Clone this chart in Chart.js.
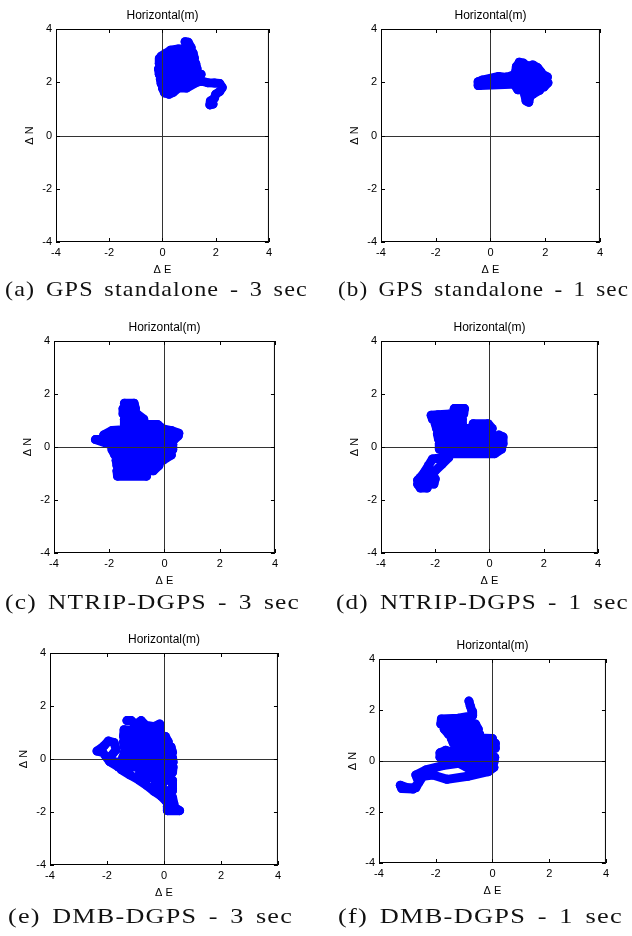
<!DOCTYPE html>
<html>
<head>
<meta charset="utf-8">
<title>Horizontal(m)</title>
<script src="https://cdn.jsdelivr.net/npm/chart.js@4.4.1/dist/chart.umd.min.js"></script>
<style>
    body { margin: 0; background: #fff; }
    #page { position: relative; width: 632px; height: 936px; overflow: hidden; background: #fff; }
    .panel { position: absolute; }
    .cap {
        position: absolute;
        font-family: "Liberation Serif", "DejaVu Serif", serif;
        font-size: 21px;
        line-height: 21px;
        white-space: nowrap;
        color: #111;
        letter-spacing: 1px;
        word-spacing: 3px;
        transform-origin: 0 0;
    }
</style>
</head>
<body>
<div id="page"></div>
<script>

/* ================= DATA (ΔE, ΔN in metres) ================= */

const tickValues = [-4, -2, 0, 2, 4];

const captions = [
    "(a) GPS standalone - 3 sec",
    "(b) GPS standalone - 1 sec",
    "(c) NTRIP-DGPS - 3 sec",
    "(d) NTRIP-DGPS - 1 sec",
    "(e) DMB-DGPS - 3 sec",
    "(f) DMB-DGPS - 1 sec"
];

const gpsStandalone3s = [
    [0.85,3.52],[0.97,3.5],[1.08,3.3],[0.6,3.25],[0.3,3.2],[0.12,3.08],[-0.05,2.98],[1.15,3.1],
    [1.2,2.9],[-0.1,2.9],[-0.12,2.7],[1.25,2.7],[1.3,2.5],[-0.15,2.5],[-0.12,2.3],[1.45,2.3],
    [1.35,2.12],[-0.08,2.12],[-0.05,1.95],[1.25,1.98],[0.9,1.78],[0.0,1.78],[0.08,1.6],[0.25,1.55],
    [0.4,1.62],[0.6,1.78],[1.0,1.9],[1.45,2.05],[1.7,1.98],[1.95,1.97],[2.15,1.95],[2.25,1.8],
    [2.15,1.65],[2.0,1.55],[1.95,1.4],[1.8,1.3],[1.78,1.15],[1.9,1.18]
];

const gpsStandalone1s = [
    [-0.45,1.88],[-0.45,2.02],[-0.3,2.08],[0.3,2.22],[0.6,2.18],[0.9,2.3],[0.95,2.55],[1.05,2.75],
    [1.2,2.72],[1.35,2.6],[1.55,2.65],[1.72,2.55],[1.85,2.38],[0.92,2.4],[0.95,2.6],[1.6,2.5],
    [1.9,2.3],[2.08,2.2],[0.6,2.2],[0.2,2.1],[-0.35,2.05],[-0.4,1.88],[2.1,1.98],[1.95,1.82],
    [0.9,1.88],[1.0,1.72],[1.8,1.7],[1.55,1.55],[1.25,1.55],[1.3,1.3],[1.4,1.25],[1.45,1.5]
];

const ntripDgps3s = [
    [-1.45,1.65],[-1.1,1.65],[-1.05,1.45],[-1.5,1.45],[-1.5,1.25],[-1.0,1.25],[-0.75,1.05],[-1.45,1.05],
    [-1.45,0.85],[-0.25,0.85],[-0.05,0.68],[0.25,0.62],[0.52,0.52],[-1.5,0.65],[-1.9,0.62],[-2.2,0.45],
    [0.5,0.42],[0.35,0.28],[-2.5,0.28],[-2.0,0.1],[0.3,0.1],[0.3,-0.1],[-1.9,-0.1],[-1.8,-0.3],
    [0.25,-0.3],[-0.05,-0.5],[-1.75,-0.5],[-1.72,-0.7],[-0.2,-0.7],[-0.4,-0.9],[-1.72,-0.9],[-1.7,-1.1],
    [-0.65,-1.1]
];

const ntripDgps1s = [
    [-1.3,1.45],[-0.92,1.45],[-0.95,1.25],[-1.45,1.25],[-1.9,1.22],[-2.15,1.2],[-2.1,1.05],[-1.0,1.05],
    [-1.0,0.88],[-2.0,0.88],[-1.95,0.7],[0.1,0.7],[-0.05,0.88],[-0.6,0.88],[-0.5,0.7],[0.1,0.5],
    [-1.92,0.5],[-1.88,0.3],[0.15,0.3],[0.35,0.45],[0.5,0.38],[0.5,0.12],[-1.85,0.12],[-1.85,-0.08],
    [0.45,-0.08],[0.2,-0.25],[-1.5,-0.25],[-1.75,-0.4],[-2.1,-0.45],[-2.25,-0.7],[-2.4,-0.95],[-2.55,-1.15],
    [-2.65,-1.25],[-2.0,-1.2],[-2.05,-1.4],[-2.65,-1.4],[-2.55,-1.55],[-2.3,-1.55],[-2.15,-1.1],[-2.0,-0.9],
    [-1.75,-0.65],[-1.5,-0.4]
];

const dmbDgps3s = [
    [-1.3,1.45],[-1.15,1.45],[-1.0,1.3],[-0.8,1.45],[-0.65,1.28],[-0.35,1.22],[-0.15,1.32],[-0.12,1.05],
    [-0.35,1.05],[-0.7,1.08],[-1.4,1.1],[-1.42,0.85],[-0.7,0.85],[-0.4,0.82],[0.05,0.85],[0.15,0.65],
    [-1.42,0.65],[-1.38,0.45],[0.25,0.45],[0.3,0.25],[-1.38,0.25],[-1.45,0.05],[0.3,0.05],[0.32,-0.12],
    [-1.9,-0.1],[-2.15,0.25],[-2.35,0.3],[-2.1,0.5],[-1.95,0.68],[-1.75,0.62],[-1.68,0.35],[-1.85,0.12],
    [-1.9,-0.1],[-1.6,-0.3],[0.32,-0.3],[0.3,-0.5],[-0.85,-0.5],[-0.55,-0.7],[-0.1,-0.7],[-0.3,-0.9],
    [-0.12,-1.05],[0.05,-0.8],[0.3,-0.8],[0.3,-1.2],[0.08,-1.2],[0.08,-1.5],[0.3,-1.45],[0.35,-1.7],
    [0.12,-1.78],[0.12,-1.95],[0.55,-1.95],[0.08,-1.6],[-0.1,-1.4],[-0.35,-1.22],[-0.6,-1.0],[-0.9,-0.78],
    [-1.2,-0.6],[-1.5,-0.4]
];

const dmbDgps1s = [
    [-0.83,2.35],[-0.78,2.15],[-0.72,1.95],[-0.7,1.78],[-1.2,1.68],[-1.8,1.65],[-1.82,1.45],[-0.6,1.45],
    [-0.5,1.25],[-1.7,1.25],[-1.55,1.05],[-0.45,1.05],[-0.55,0.9],[0.0,0.88],[-1.45,0.88],[-1.38,0.7],
    [0.1,0.7],[0.1,0.5],[-1.32,0.5],[-1.3,0.32],[-1.65,0.42],[-1.85,0.32],[-1.85,0.15],[0.08,0.15],
    [0.05,-0.05],[-1.25,-0.05],[-0.9,-0.25],[0.05,-0.25],[-0.15,-0.42],[-0.87,-0.6],[-1.6,-0.72],[-2.1,-0.55],
    [-2.45,-0.6],[-2.6,-0.85],[-2.7,-1.05],[-3.0,-1.05],[-3.25,-0.95],[-3.2,-1.08],[-2.8,-1.1],[-2.6,-0.85],
    [-2.7,-0.55],[-2.35,-0.35],[-1.75,-0.18],[-1.25,-0.1]
];


/* ================= LAYOUT ================= */

// plot box [left, top, right, bottom] and caption [left, top, width] on the page
const panels = [
    { data: gpsStandalone3s, box: [56, 29, 266, 242],  cap: [5, 279, 303] },
    { data: gpsStandalone1s, box: [381, 29, 597, 242], cap: [338, 279, 291] },
    { data: ntripDgps3s,     box: [54, 341, 272, 553], cap: [5, 592, 295] },
    { data: ntripDgps1s,     box: [381, 341, 595, 553], cap: [336, 592, 293] },
    { data: dmbDgps3s,       box: [50, 653, 275, 865], cap: [8, 906, 285] },
    { data: dmbDgps1s,       box: [379, 659, 603, 863], cap: [338, 906, 285] }
];

const PAD_L = 50, PAD_T = 30, PAD_R = 10, PAD_B = 40;
const BLUE = "#0000ff";
const tickFont  = { family: "Liberation Sans", size: 11 };
const titleFont = { family: "Liberation Sans", size: 12 };

// MATLAB style frame: box, inward ticks on all sides, zero lines over the data
const frame = {
    id: "frame",
    afterDatasetsDraw(chart) {
        const { ctx, chartArea: a, scales: { x, y } } = chart;
        ctx.save();
        ctx.lineWidth = 1;

        ctx.strokeStyle = "#333";
        ctx.beginPath();
        const x0 = Math.round(x.getPixelForValue(0)) + 0.5;
        const y0 = Math.round(y.getPixelForValue(0)) + 0.5;
        ctx.moveTo(x0, a.top); ctx.lineTo(x0, a.bottom);
        ctx.moveTo(a.left, y0); ctx.lineTo(a.right, y0);
        ctx.stroke();

        ctx.strokeStyle = "#000";
        ctx.strokeRect(a.left + 0.5, a.top + 0.5, a.right - a.left - 1, a.bottom - a.top - 1);
        ctx.beginPath();
        x.ticks.forEach(t => {
            const px = Math.round(x.getPixelForValue(t.value)) + 0.5;
            ctx.moveTo(px, a.bottom); ctx.lineTo(px, a.bottom - 4);
            ctx.moveTo(px, a.top);    ctx.lineTo(px, a.top + 4);
        });
        y.ticks.forEach(t => {
            const py = Math.round(y.getPixelForValue(t.value)) + 0.5;
            ctx.moveTo(a.left, py);  ctx.lineTo(a.left + 4, py);
            ctx.moveTo(a.right, py); ctx.lineTo(a.right - 4, py);
        });
        ctx.stroke();
        ctx.restore();
    }
};

const page = document.getElementById("page");

function setTicks(scale) {
    scale.ticks = tickValues.map(v => ({ value: v }));
}

function makePanel(p, i) {
    const [L, T, R, B] = p.box;

    const div = document.createElement("div");
    div.className = "panel";
    div.style.left   = (L - PAD_L) + "px";
    div.style.top    = (T - PAD_T) + "px";
    div.style.width  = (R - L + PAD_L + PAD_R) + "px";
    div.style.height = (B - T + PAD_T + PAD_B) + "px";
    const cv = document.createElement("canvas");
    cv.setAttribute("role", "img");
    cv.setAttribute("aria-label", captions[i]);
    div.appendChild(cv);
    page.appendChild(div);

    new Chart(cv, {
        type: "scatter",
        data: {
            datasets: [{
                data: p.data.map(([e, n]) => ({ x: e, y: n })),
                showLine: true,
                borderColor: BLUE,
                backgroundColor: BLUE,
                borderWidth: 9,
                borderJoinStyle: "round",
                borderCapStyle: "round",
                pointRadius: 4.5,
                pointBorderWidth: 0,
                pointHoverRadius: 4.5
            }]
        },
        options: {
            responsive: true,
            maintainAspectRatio: false,
            animation: false,
            events: [],
            layout: { padding: 0 },
            plugins: { legend: { display: false }, tooltip: { enabled: false } },
            scales: {
                x: {
                    type: "linear", position: "bottom", min: -4, max: 4,
                    afterBuildTicks: setTicks,
                    afterFit: s => { s.height = PAD_B; },
                    grid: { display: false, drawTicks: false },
                    border: { display: false },
                    ticks: { color: "#000", font: tickFont, padding: 4 },
                    title: { display: true, text: "Δ E", color: "#000", font: tickFont, padding: { top: 0, bottom: 5 } }
                },
                y: {
                    type: "linear", position: "left", min: -4, max: 4,
                    afterBuildTicks: setTicks,
                    afterFit: s => { s.width = PAD_L; },
                    grid: { display: false, drawTicks: false },
                    border: { display: false },
                    ticks: { color: "#000", font: tickFont, padding: 4 },
                    title: { display: true, text: "Δ N", color: "#000", font: tickFont, padding: { top: 17, bottom: 0 } }
                },
                top: {
                    type: "linear", position: "top", min: -4, max: 4,
                    afterFit: s => { s.height = PAD_T; },
                    grid: { display: false, drawTicks: false },
                    border: { display: false },
                    ticks: { display: false },
                    title: { display: true, text: "Horizontal(m)", color: "#000", font: titleFont, padding: { top: 9, bottom: 0 } }
                }
            }
        },
        plugins: [frame]
    });

    // caption below the panel, stretched to the printed width
    const cap = document.createElement("div");
    cap.className = "cap";
    cap.textContent = captions[i];
    cap.style.left = p.cap[0] + "px";
    cap.style.top  = p.cap[1] + "px";
    page.appendChild(cap);
    const w = cap.getBoundingClientRect().width;
    cap.style.transform = `scaleX(${(p.cap[2] / w).toFixed(3)})`;
}

panels.forEach(makePanel);

</script>
</body>
</html>
